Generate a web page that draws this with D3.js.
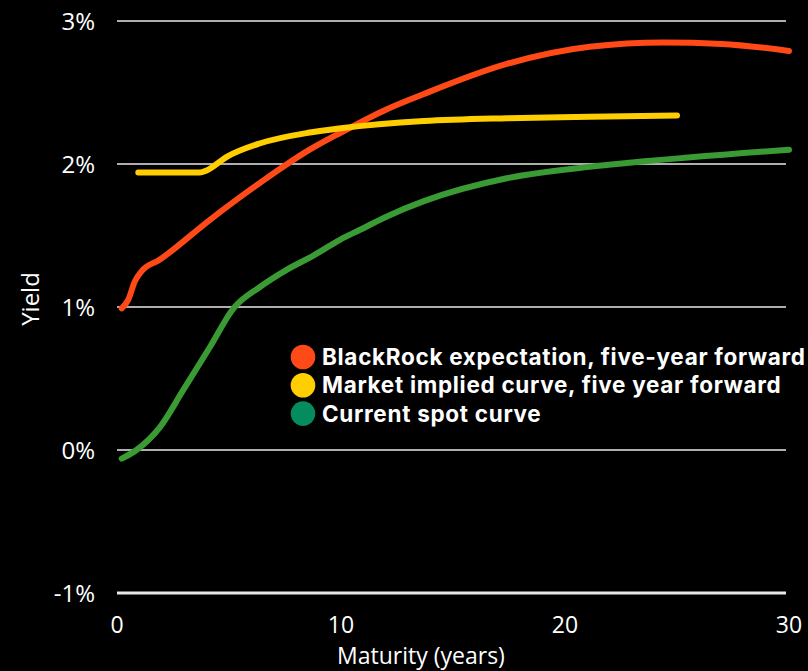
<!DOCTYPE html>
<html>
<head>
<meta charset="utf-8">
<script src="https://cdn.jsdelivr.net/npm/d3@7"></script>
<style>
  html, body { margin: 0; padding: 0; background: #000; }
  svg { display: block; }
</style>
</head>
<body>
<svg id="chart" width="808" height="671"></svg>
<script>
// Yield curves: maturity in years, yield in percent
const blackrockMaturity = [0.21, 0.5, 0.8, 1.1, 1.9, 4.15, 6.4, 8.6, 10, 12, 13.7, 17.4, 21.1, 24.4, 27, 30];
const blackrockYield    = [0.99, 1.05, 1.18, 1.25, 1.33, 1.61, 1.87, 2.10, 2.22, 2.38, 2.49, 2.70, 2.82, 2.85, 2.84, 2.79];

const marketMaturity = [0.95, 2.5, 3.7, 4.0, 4.9, 6.4, 8.6, 10, 13.7, 17.4, 21.1, 25];
const marketYield    = [1.94, 1.94, 1.94, 1.955, 2.05, 2.145, 2.22, 2.25, 2.30, 2.32, 2.33, 2.34];

const spotMaturity = [0.21, 0.87, 1.92, 2.96, 4.15, 5.2, 6.38, 7.57, 8.77, 9.95, 10.85, 12, 13.7, 17.4, 21.1, 23, 30];
const spotYield    = [-0.06, 0.0, 0.16, 0.42, 0.72, 0.99, 1.14, 1.26, 1.36, 1.47, 1.54, 1.63, 1.74, 1.90, 1.98, 2.01, 2.10];

const seriesNames  = ["BlackRock expectation, five-year forward", "Market implied curve, five year forward", "Current spot curve"];
const lineColors   = ["#FF4A17", "#FFCE00", "#3A9B35"];
const legendColors = ["#FF4A17", "#FFCE00", "#048C5E"];

const xTicks = [0, 10, 20, 30];
const yTicks = [-1, 0, 1, 2, 3];

const tickFont = "'Open Sans', 'Noto Sans', sans-serif";
const legendFont = "Inter, Roboto, sans-serif";

const svg = d3.select("#chart");

const x = d3.scaleLinear().domain([0, 30]).range([117, 789]);
const y = d3.scaleLinear().domain([-1, 3]).range([593, 21]);

// Horizontal grid lines
svg.append("g")
  .selectAll("line")
  .data(yTicks)
  .join("line")
  .attr("x1", x(0))
  .attr("x2", 786)
  .attr("y1", d => y(d))
  .attr("y2", d => y(d))
  .attr("stroke", "#e8e8e8")
  .attr("stroke-width", d => d === -1 ? 3.2 : 1.6);

// Y tick labels
svg.append("g")
  .selectAll("text")
  .data(yTicks)
  .join("text")
  .attr("x", 95)
  .attr("y", d => y(d))
  .attr("dy", "0.36em")
  .attr("text-anchor", "end")
  .attr("fill", "#fff")
  .attr("font-family", tickFont)
  .attr("font-size", 24)
  .text(d => d + "%");

// X tick labels
svg.append("g")
  .selectAll("text")
  .data(xTicks)
  .join("text")
  .attr("x", d => x(d))
  .attr("y", 633)
  .attr("text-anchor", "middle")
  .attr("fill", "#fff")
  .attr("font-family", tickFont)
  .attr("font-size", 23)
  .text(d => d);

// Axis titles
svg.append("text")
  .attr("x", 421)
  .attr("y", 664)
  .attr("text-anchor", "middle")
  .attr("fill", "#fff")
  .attr("font-family", tickFont)
  .attr("font-size", 23)
  .text("Maturity (years)");

svg.append("text")
  .attr("transform", "translate(39,299) rotate(-90)")
  .attr("text-anchor", "middle")
  .attr("fill", "#fff")
  .attr("font-family", tickFont)
  .attr("font-size", 24)
  .text("Yield");

// Curves
const line = d3.line()
  .x(d => x(d[0]))
  .y(d => y(d[1]))
  .curve(d3.curveMonotoneX);

const series = [
  d3.zip(spotMaturity, spotYield),
  d3.zip(blackrockMaturity, blackrockYield),
  d3.zip(marketMaturity, marketYield)
];
const seriesColor = [lineColors[2], lineColors[0], lineColors[1]];

svg.append("g")
  .selectAll("path")
  .data(series)
  .join("path")
  .attr("d", line)
  .attr("fill", "none")
  .attr("stroke", (d, i) => seriesColor[i])
  .attr("stroke-width", 6)
  .attr("stroke-linecap", "round")
  .attr("stroke-linejoin", "round");

// Legend
const legend = svg.append("g");
const rows = legend.selectAll("g")
  .data(seriesNames)
  .join("g")
  .attr("transform", (d, i) => `translate(303,${357 + i * 28.3})`);

rows.append("circle")
  .attr("r", 12.3)
  .attr("fill", (d, i) => legendColors[i]);

const labelSize = 22.5;
const labels = rows.append("text")
  .attr("x", 19)
  .attr("dy", "0.36em")
  .attr("fill", "#fff")
  .attr("font-family", legendFont)
  .attr("font-weight", 700)
  .attr("font-size", labelSize)
  .text(d => d);

// Spread the legend text so the longest entry ends at the chart's right edge
const longestNode = labels.nodes().reduce((a, b) =>
  a.getComputedTextLength() >= b.getComputedTextLength() ? a : b);
const longest = longestNode.getComputedTextLength();
const spacing = (483 - longest) / (longestNode.textContent.length - 1);
labels.attr("letter-spacing", Math.max(0, spacing));
</script>
</body>
</html>
